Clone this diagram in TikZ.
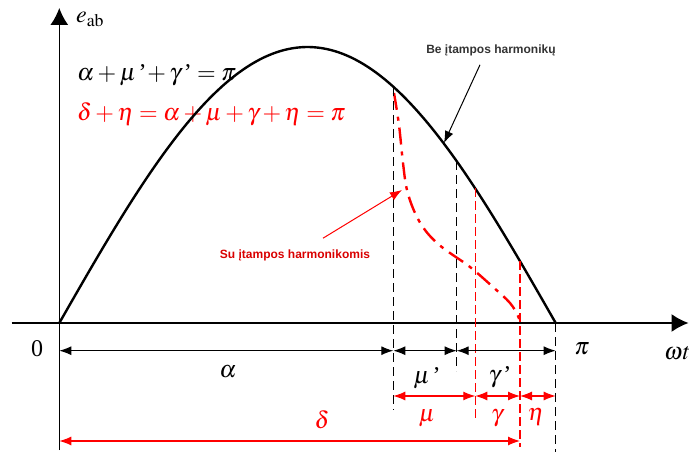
\documentclass[tikz,border=0pt]{standalone}
\usepackage{mathptmx}
\usepackage[no-math]{fontspec}
\setmainfont{Liberation Serif}
\newfontfamily\notefont{Liberation Sans}
\usetikzlibrary{arrows.meta, positioning, calc}

\begin{document}
\begin{tikzpicture}[x=1pt, y=-1pt,
  curve/.style={line width=2.4pt, black},
  axis/.style={line width=1.4pt, -{Latex[length=17pt,width=18pt]}},
  dim/.style={{Latex[length=12pt,width=9pt]}-{Latex[length=12pt,width=9pt]}, line width=1.1pt},
  guide/.style={dash pattern=on 9pt off 5pt, line width=1.1pt},
  redguide/.style={draw=red, dash pattern=on 9pt off 4pt, line width=1.1pt},
  harm/.style={red, line width=2.4pt, dash pattern=on 17pt off 7pt on 4pt off 7pt},
  lbl/.style={font=\fontsize{24}{28}\selectfont, inner sep=0pt},
  note/.style={font=\notefont\bfseries\fontsize{12}{14}\selectfont, inner sep=0pt},
  pointer/.style={-{Latex[length=12pt,width=9pt]}, line width=1pt}
]
\useasboundingbox (0,0) rectangle (689,452);

% asys
\coordinate (O) at (59.3,323);
\coordinate (P) at (555.7,323);
\draw[axis] (11.7,323) -- (688.5,323);
\draw[axis] (59.3,450) -- (59.3,8);
\node[lbl, anchor=west] (eab) at (76,19) {$e_{\mathrm{ab}}$};
\node[lbl] (zero) at (37,349) {0};
\node[lbl] (pi) at (582,349) {$\pi$};
\node[lbl, anchor=west] (wt) at (664,353) {$\omega t$};

% formulės
\node[lbl, anchor=west] (f1) at (77,75) {$\alpha+\mu\,\textrm{'}\!+\gamma\,\textrm{'}=\pi$};
\node[lbl, anchor=west, red] (f2) at (77,114) {$\delta+\eta=\alpha+\mu+\gamma+\eta=\pi$};

% kreivė be harmonikų
\draw[curve] plot[domain=59.3:555.7, samples=120] (\x, {323-276*sin(0.36261*(\x-59.3))});

% kreivė su harmonikomis
\draw[harm] plot[smooth, tension=0.6] coordinates {(394,93) (399,125) (403,163) (407,190)
  (415,213) (425,230) (437,243) (450,253) (470,267) (493,287) (510,303) (518,316) (520,323)};

% pagalbinės linijos
\coordinate (A) at (393.3,323);
\coordinate (M) at (456.7,323);
\coordinate (G) at (475.3,323);
\coordinate (E) at (520,323);
\draw[guide] (393.3,87) -- (393.3,410);
\draw[guide] (456.7,161) -- (456.7,371);
\draw[redguide] (475.3,188) -- (475.3,418);
\draw[redguide] (520,261) -- (520,447);
\draw[guide] (P) -- (555.7,452);

% matmenys
\coordinate (r1) at (0,350.7);
\coordinate (r2) at (0,396);
\coordinate (r3) at (0,441);
\draw[dim] (O |- r1) -- (A |- r1);
\draw[dim] (A |- r1) -- (M |- r1);
\draw[dim] (M |- r1) -- (P |- r1);
\draw[dim, red] (A |- r2) -- (G |- r2);
\draw[dim, red] (G |- r2) -- (E |- r2);
\draw[dim, red] (E |- r2) -- (P |- r2);
\draw[dim, red] (O |- r3) -- (E |- r3);

\node[lbl] (la) at (228,372) {$\alpha$};
\node[lbl] (lm1) at (427,378) {$\mu\,\textrm{'}$};
\node[lbl] (lg1) at (500,377) {$\gamma\,\textrm{'}$};
\node[lbl, red] (lm) at (427,418) {$\mu$};
\node[lbl, red] (lg) at (497,418) {$\gamma$};
\node[lbl, red] (le) at (536,417) {$\eta$};
\node[lbl, red] (ld) at (322,420) {$\delta$};

% užrašai
\coordinate (c1) at (444,143);
\coordinate (c2) at (402,190);
\node[note, text=black!80] (bnote) at (491,50) {Be įtampos harmonikų};
\node[note, text=red!85!black] (snote) at (295,255) {Su įtampos harmonikomis};
\draw[pointer] ([shift={(-11,9)}]bnote.south) -- (c1);
\draw[pointer, red] ([shift={(28,-11)}]snote.north) -- (c2);

\end{tikzpicture}
\end{document}
